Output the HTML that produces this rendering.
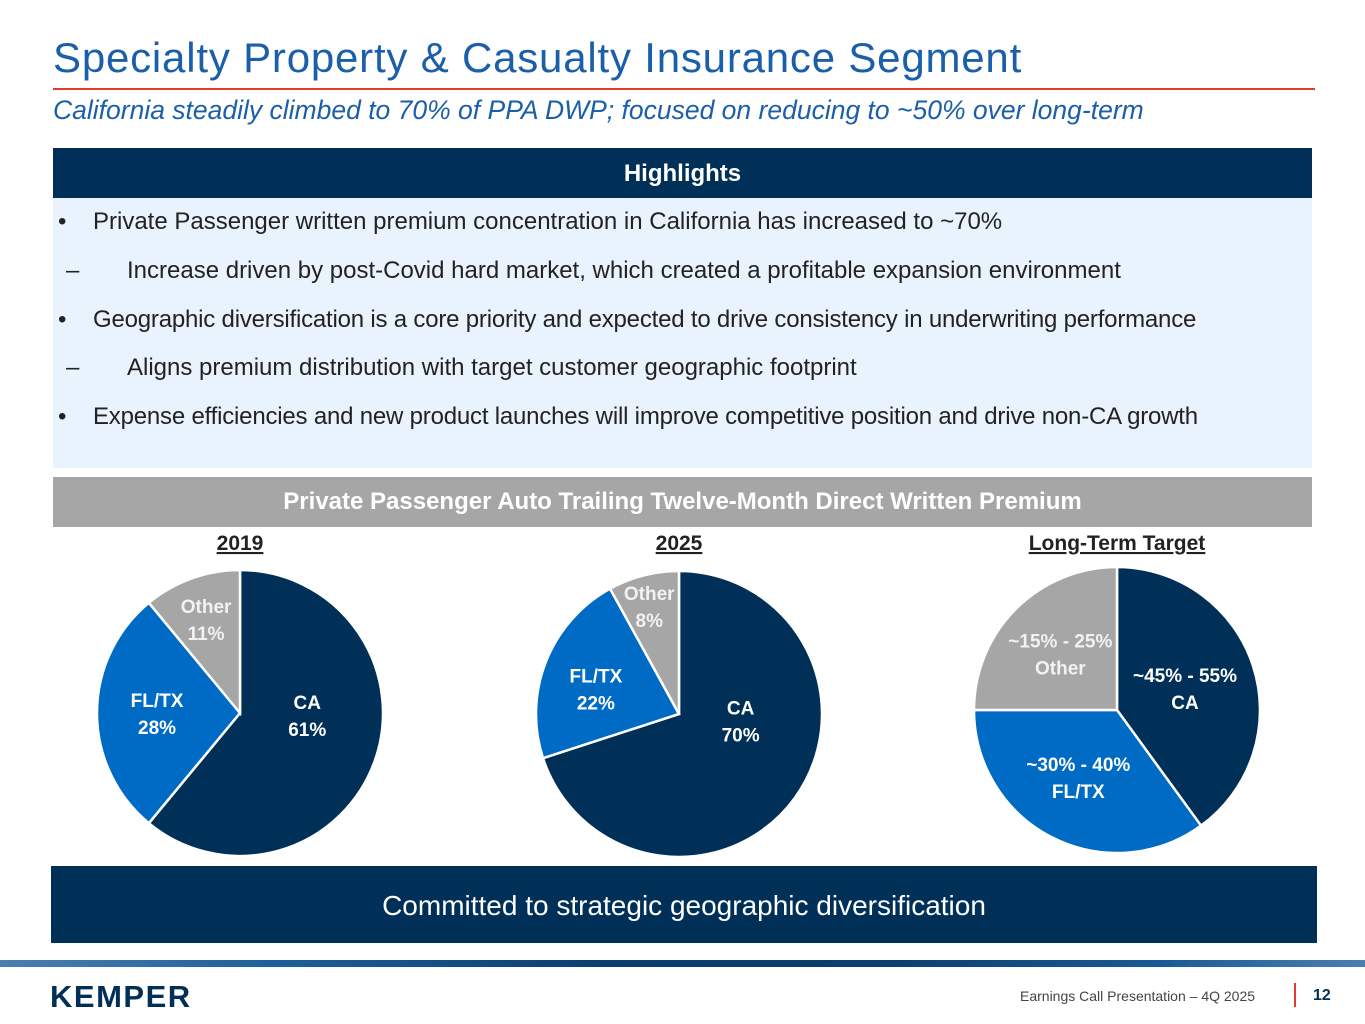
<!DOCTYPE html>
<html><head><meta charset="utf-8"><style>
body{margin:0;width:1365px;height:1024px;position:relative;background:#fff;font-family:"Liberation Sans",sans-serif;overflow:hidden}
.a{position:absolute}
</style></head><body>
<div class="a" style="left:53px;top:34px;font-size:42px;color:#1b5faa;letter-spacing:0.8px">Specialty Property &amp; Casualty Insurance Segment</div>
<div class="a" style="left:53px;top:88px;width:1262px;height:2px;background:#e03c31"></div>
<div class="a" style="left:53px;top:95px;font-size:26.5px;font-style:italic;color:#1b5faa">California steadily climbed to 70% of PPA DWP; focused on reducing to ~50% over long-term</div>
<div class="a" style="left:53px;top:148px;width:1259px;height:50px;background:#003057;color:#fff;font-weight:bold;font-size:24px;text-align:center;line-height:52px">Highlights</div>
<div class="a" style="left:53px;top:198px;width:1259px;height:270px;background:#e8f3fd;font-size:24px;color:#222">
<div class="a" style="left:5px;top:10px">•</div><div class="a" style="left:40px;top:10px">Private Passenger written premium concentration in California has increased to ~70%</div>
<div class="a" style="left:13px;top:59px">–</div><div class="a" style="left:74px;top:59px">Increase driven by post-Covid hard market, which created a profitable expansion environment</div>
<div class="a" style="left:5px;top:108px">•</div><div class="a" style="left:40px;top:108px;letter-spacing:-0.2px">Geographic diversification is a core priority and expected to drive consistency in underwriting performance</div>
<div class="a" style="left:13px;top:156px">–</div><div class="a" style="left:74px;top:156px">Aligns premium distribution with target customer geographic footprint</div>
<div class="a" style="left:5px;top:205px">•</div><div class="a" style="left:40px;top:205px;letter-spacing:-0.2px">Expense efficiencies and new product launches will improve competitive position and drive non-CA growth</div>
</div>
<div class="a" style="left:53px;top:477px;width:1259px;height:50px;background:#a6a6a6;color:#fff;font-weight:bold;font-size:24px;text-align:center;line-height:50px">Private Passenger Auto Trailing Twelve-Month Direct Written Premium</div>
<svg class="a" id="pies" style="left:0;top:0" width="1365" height="1024"></svg>
<div class="a" style="left:51px;top:866px;width:1266px;height:77px;background:#003057;color:#fff;font-size:28px;text-align:center;line-height:80px">Committed to strategic geographic diversification</div>
<div class="a" style="left:0;top:960px;width:1365px;height:7px;background:linear-gradient(90deg,#4b7fae,#1f5f99 20%,#0a3d6b 45%,#0c3f6d 65%,#1a5a94 85%,#4b7fae)"></div>
<div class="a" style="left:50px;top:979px;font-size:31px;font-weight:bold;color:#003057;letter-spacing:1.5px">KEMPER</div>
<div class="a" style="left:1020px;top:988px;font-size:14px;color:#444">Earnings Call Presentation – 4Q 2025</div>
<div class="a" style="left:1294px;top:983px;width:2px;height:24px;background:#e03c31"></div>
<div class="a" style="left:1313px;top:987px;font-size:16px;font-weight:bold;color:#003057">12</div>
<script>
const pieTitles=["2019","2025","Long-Term Target"];
const categories=["CA","FL/TX","Other"];
const values2019=[61,28,11];
const values2025=[70,22,8];
const valuesTarget=[40,35,25];
const labels2019=[["CA","61%"],["FL/TX","28%"],["Other","11%"]];
const labels2025=[["CA","70%"],["FL/TX","22%"],["Other","8%"]];
const labelsTarget=[["~45% - 55%","CA"],["~30% - 40%","FL/TX"],["~15% - 25%","Other"]];
const colors=["#003057","#006bc4","#a6a6a6"];
const svg=document.getElementById('pies');
const NS="http://www.w3.org/2000/svg";
const centers=[[240,713],[679,714],[1117,710]];
const R=143;
const allVals=[values2019,values2025,valuesTarget];
const allLabels=[labels2019,labels2025,labelsTarget];
const labelR=[[0.47,0.58,0.7],[0.42,0.58,0.78],[0.5,0.55,0.6]];
const shiftX=[[4,0,0],[13,-6,-2],[0,-3,4]];
const shiftY=[[-21,0,0],[-29,5,0],[0,-3,4]];
allVals.forEach((vals,pi)=>{
  const [cx,cy]=centers[pi];
  const tot=vals.reduce((a,b)=>a+b,0);
  let a0=0;
  const t=document.createElementNS(NS,'text');
  
  
  t.setAttribute('x',cx);t.setAttribute('y',550);t.setAttribute('text-anchor','middle');
  t.setAttribute('font-size','21');t.setAttribute('font-weight','bold');t.setAttribute('fill','#222');
  t.setAttribute('text-decoration','underline');t.setAttribute('font-family','Liberation Sans, sans-serif');
  t.textContent=pieTitles[pi];svg.appendChild(t);
  vals.forEach((v,i)=>{
    const a1=a0+v/tot*2*Math.PI;
    const p=(a)=>[cx+R*Math.sin(a),cy-R*Math.cos(a)];
    const [x0,y0]=p(a0),[x1,y1]=p(a1);
    const path=document.createElementNS(NS,'path');
    
    
    path.setAttribute('d',`M${cx},${cy}L${x0},${y0}A${R},${R} 0 ${a1-a0>Math.PI?1:0} 1 ${x1},${y1}Z`);
    path.setAttribute('fill',colors[i]);path.setAttribute('stroke','#fff');path.setAttribute('stroke-width','2.5');
    svg.appendChild(path);
    const am=(a0+a1)/2, lr=R*labelR[pi][i];
    const lx=cx+lr*Math.sin(am)+shiftX[pi][i], ly=cy-lr*Math.cos(am)+shiftY[pi][i];
    const lab=document.createElementNS(NS,'text');
    
    
    lab.setAttribute('x',lx);lab.setAttribute('y',ly-6);lab.setAttribute('text-anchor','middle');
    lab.setAttribute('font-size','19');lab.setAttribute('font-weight','bold');lab.setAttribute('font-family','Liberation Sans, sans-serif');
    lab.setAttribute('fill',i==2?'#f2f2f2':'#fff');
    allLabels[pi][i].forEach((s,k)=>{const ts=document.createElementNS(NS,'tspan');ts.setAttribute('x',lx);ts.setAttribute('dy',k?27:0);ts.textContent=s;lab.appendChild(ts);});
    svg.appendChild(lab);
    a0=a1;
  });
});
</script>
</body></html>
